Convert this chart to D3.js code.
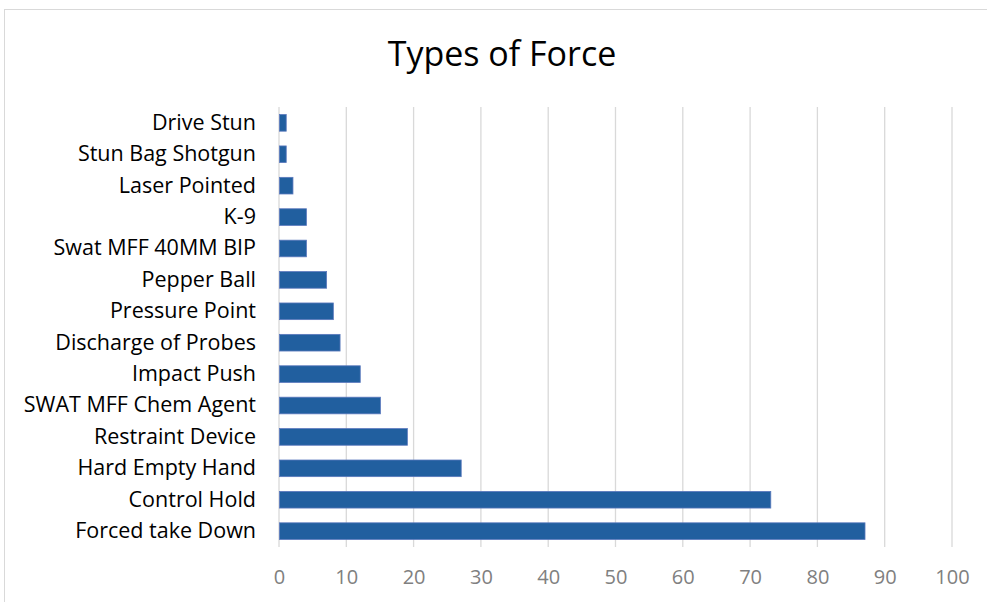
<!DOCTYPE html>
<html>
<head>
<meta charset="utf-8">
<script src="https://cdn.jsdelivr.net/npm/d3@7"></script>
<style>
  body { margin: 0; background: #fff; }
  text { font-family: "Open Sans", sans-serif; }
</style>
</head>
<body>
<div id="chart"></div>
<script>
// data, top to bottom as drawn
const categories = ["Drive Stun", "Stun Bag Shotgun", "Laser Pointed", "K-9", "Swat MFF 40MM BIP",
  "Pepper Ball", "Pressure Point", "Discharge of Probes", "Impact Push", "SWAT MFF Chem Agent",
  "Restraint Device", "Hard Empty Hand", "Control Hold", "Forced take Down"];
const values = [1, 1, 2, 4, 4, 7, 8, 9, 12, 15, 19, 27, 73, 87];
const xTicks = [0, 10, 20, 30, 40, 50, 60, 70, 80, 90, 100];
const title = "Types of Force";

// layout
const width = 987, height = 602;
const plotLeft = 279, plotRight = 952;
const plotTop = 107, plotBottom = 547;

var svg = d3.select("#chart").append("svg")
  .attr("width", width)
  .attr("height", height);

// outer chart border
svg.append("rect")
  .attr("x", 4.5).attr("y", 9.5)
  .attr("width", 1000).attr("height", 700)
  .attr("fill", "#fff")
  .attr("stroke", "#d9d9d9");

svg.append("text")
  .attr("x", 502).attr("y", 66)
  .attr("text-anchor", "middle")
  .attr("font-size", 34)
  .attr("fill", "#000")
  .text(title);

var x = d3.scaleLinear().domain([0, 100]).range([plotLeft, plotRight]);
var y = d3.scaleBand().domain(categories).range([plotTop, plotBottom]).paddingInner(0.47).paddingOuter(0.24);

// gridlines
svg.append("g").selectAll("line")
  .data(xTicks)
  .enter().append("line")
  .attr("x1", d => x(d)).attr("x2", d => x(d))
  .attr("y1", plotTop).attr("y2", plotBottom)
  .attr("stroke", "#d9d9d9")
  .attr("stroke-width", 1.3);

// bars
svg.append("g").selectAll("rect")
  .data(values)
  .enter().append("rect")
  .attr("x", x(0) + 0.5)
  .attr("y", (d, i) => y(categories[i]))
  .attr("width", d => x(d) - x(0))
  .attr("height", y.bandwidth())
  .attr("fill", "#215f9f")
  .attr("stroke", "#5b79bd")
  .attr("stroke-width", 0.8);

// x axis
var xAxis = svg.append("g")
  .attr("transform", `translate(0, ${plotBottom})`)
  .call(d3.axisBottom(x).tickValues(xTicks).tickSize(0).tickPadding(23));
xAxis.select(".domain").remove();
xAxis.selectAll("text")
  .attr("font-size", 20)
  .attr("font-family", "'Open Sans', sans-serif")
  .attr("fill", "#808080");

// y axis labels
var yAxis = svg.append("g")
  .attr("transform", `translate(${plotLeft}, 0)`)
  .call(d3.axisLeft(y).tickSize(0).tickPadding(23));
yAxis.select(".domain").remove();
yAxis.selectAll("text")
  .attr("font-size", 21.5)
  .attr("font-family", "'Open Sans', sans-serif")
  .attr("fill", "#000");
</script>
</body>
</html>
